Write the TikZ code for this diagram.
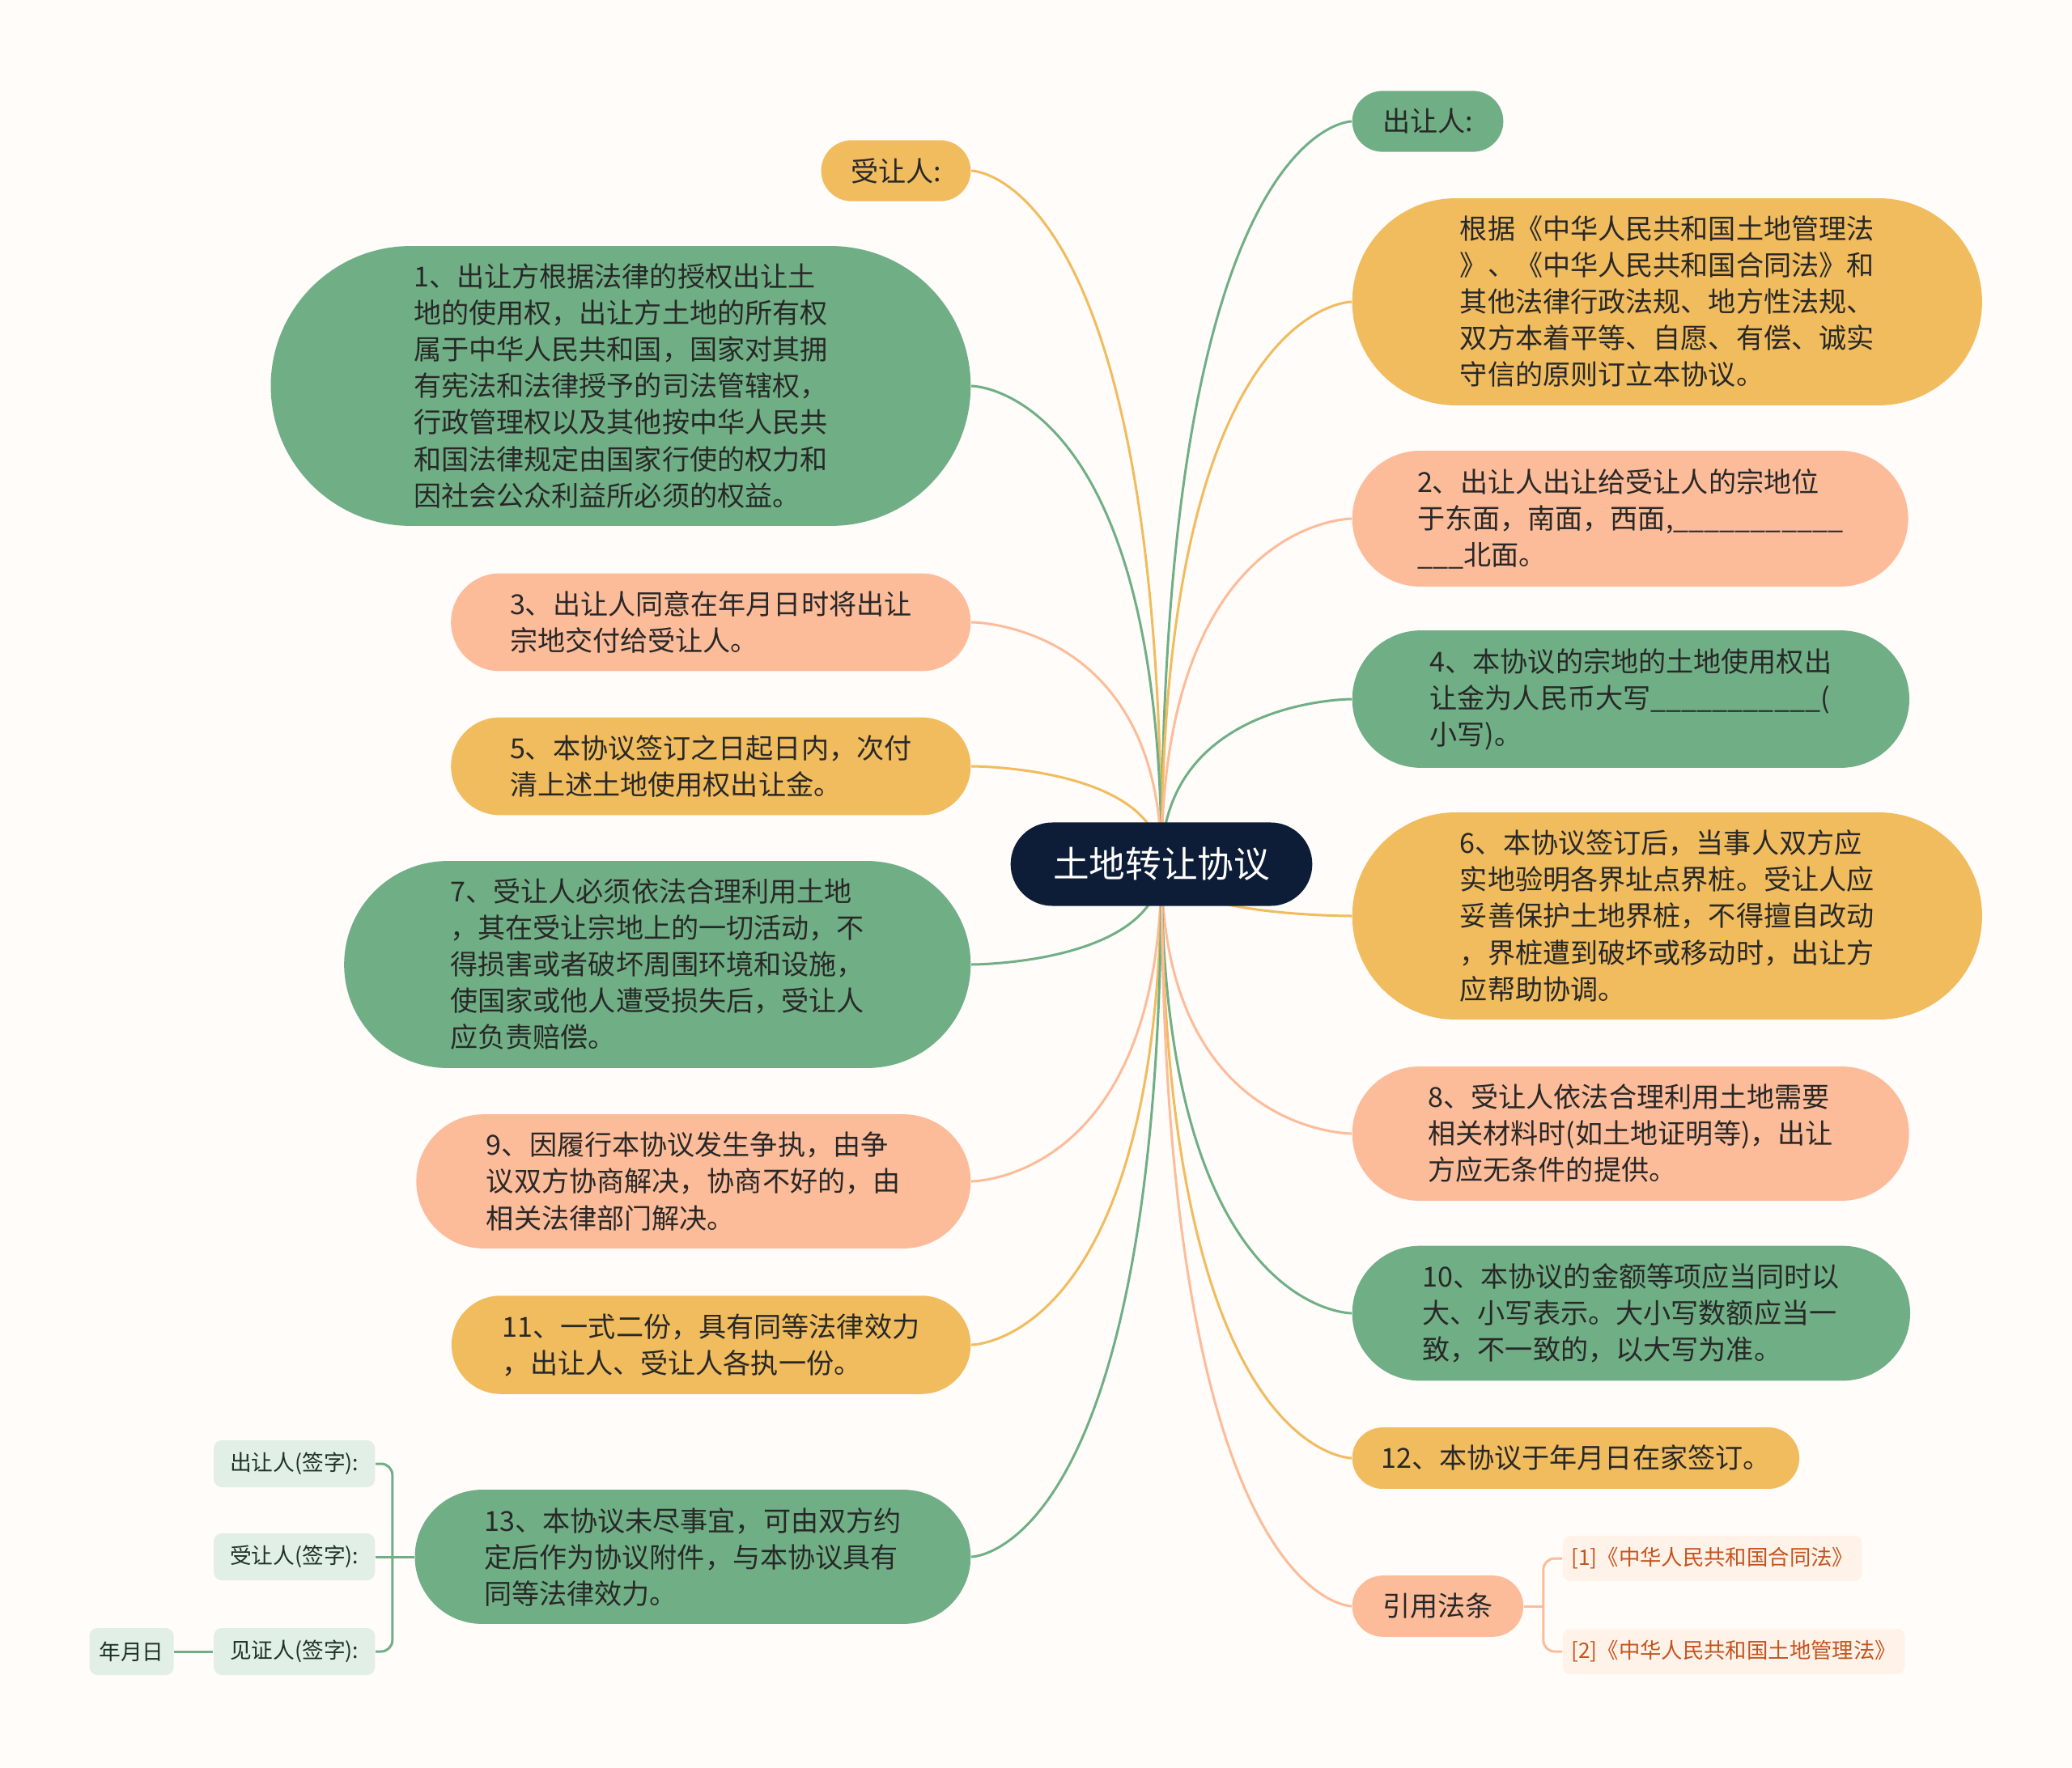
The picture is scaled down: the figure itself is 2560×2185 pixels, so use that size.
\documentclass[tikz,border=0pt]{standalone}
\usepackage{fontspec}
\setmainfont{Noto Sans CJK SC}
\usetikzlibrary{backgrounds,calc,positioning,shapes.misc}
\definecolor{bg}{RGB}{255,252,250}
\definecolor{grn}{RGB}{112,175,133}
\definecolor{yel}{RGB}{240,188,94}
\definecolor{sal}{RGB}{253,188,153}
\definecolor{navy}{RGB}{13,29,56}
\definecolor{ink}{RGB}{40,40,40}
\definecolor{leaf}{RGB}{226,239,230}
\definecolor{leafink}{RGB}{30,50,38}
\definecolor{refbg}{RGB}{255,242,232}
\definecolor{refink}{RGB}{196,84,30}
\tikzset{
  topic/.style={rounded rectangle,align=left,text=ink,inner xsep=0.06cm,inner ysep=0.22cm,
    font=\fontsize{9.7}{12.8}\selectfont},
  grnbox/.style={topic,fill=grn},
  yelbox/.style={topic,fill=yel},
  salbox/.style={topic,fill=sal},
  leafbox/.style={rounded corners=0.1cm,fill=leaf,text=leafink,font=\fontsize{7.6}{9}\selectfont,
    minimum height=0.58cm,inner xsep=0.2cm},
  refbox/.style={rounded corners=0.1cm,fill=refbg,text=refink,font=\fontsize{7.5}{9}\selectfont,
    minimum height=0.56cm,inner xsep=0.105cm},
  link/.style={line width=0.03cm},
}

\begin{document}
\begin{tikzpicture}[x=0.01cm,y=-0.01cm]
\node[rounded rectangle,fill=navy,text=white,font=\fontsize{12.7}{15}\selectfont,minimum height=1.03cm,inner xsep=0.48cm] (root) at (1435,1068) {土地转让协议};
% left branch
\node[yelbox,anchor=east,inner xsep=0.33cm] (sr) at (1200,211) {受让人:};
\node[grnbox,anchor=east,inner xsep=0.88cm] (c1) at (1200,477) {1、出让方根据法律的授权出让土\\地的使用权，出让方土地的所有权\\属于中华人民共和国，国家对其拥\\有宪法和法律授予的司法管辖权，\\行政管理权以及其他按中华人民共\\和国法律规定由国家行使的权力和\\因社会公众利益所必须的权益。};
\node[salbox,anchor=east,inner xsep=0.59cm] (c3) at (1200,769) {3、出让人同意在年月日时将出让\\宗地交付给受让人。};
\node[yelbox,anchor=east,inner xsep=0.59cm] (c5) at (1200,947) {5、本协议签订之日起日内，次付\\清上述土地使用权出让金。};
\node[grnbox,anchor=east,inner xsep=0.75cm] (c7) at (1200,1192) {7、受让人必须依法合理利用土地\\，其在受让宗地上的一切活动，不\\得损害或者破坏周围环境和设施，\\使国家或他人遭受损失后，受让人\\应负责赔偿。};
\node[salbox,anchor=east,inner xsep=0.60cm] (c9) at (1200,1460) {9、因履行本协议发生争执，由争\\议双方协商解决，协商不好的，由\\相关法律部门解决。};
\node[yelbox,anchor=east,inner xsep=0.49cm] (c11) at (1200,1662) {11、一式二份，具有同等法律效力\\，出让人、受让人各执一份。};
\node[grnbox,anchor=east,inner xsep=0.59cm] (c13) at (1200,1924) {13、本协议未尽事宜，可由双方约\\定后作为协议附件，与本协议具有\\同等法律效力。};
% right branch
\node[grnbox,anchor=west,inner xsep=0.34cm] (cr) at (1670,150) {出让人:};
\node[yelbox,anchor=west,inner xsep=0.77cm] (c0) at (1670,373) {根据《中华人民共和国土地管理法\\》、《中华人民共和国合同法》和\\其他法律行政法规、地方性法规、\\双方本着平等、自愿、有偿、诚实\\守信的原则订立本协议。};
\node[salbox,anchor=west,inner xsep=0.53cm] (c2) at (1670,641) {2、出让人出让给受让人的宗地位\\于东面，南面，西面,\_\_\_\_\_\_\_\_\_\_\_\\\_\_\_北面。};
\node[grnbox,anchor=west,inner xsep=0.68cm] (c4) at (1670,864) {4、本协议的宗地的土地使用权出\\让金为人民币大写\_\_\_\_\_\_\_\_\_\_\_(\\小写)。};
\node[yelbox,anchor=west,inner xsep=0.77cm] (c6) at (1670,1132) {6、本协议签订后，当事人双方应\\实地验明各界址点界桩。受让人应\\妥善保护土地界桩，不得擅自改动\\，界桩遭到破坏或移动时，出让方\\应帮助协调。};
\node[salbox,anchor=west,inner xsep=0.67cm] (c8) at (1670,1401) {8、受让人依法合理利用土地需要\\相关材料时(如土地证明等)，出让\\方应无条件的提供。};
\node[grnbox,anchor=west,inner xsep=0.60cm] (c10) at (1670,1623) {10、本协议的金额等项应当同时以\\大、小写表示。大小写数额应当一\\致，不一致的，以大写为准。};
\node[yelbox,anchor=west,inner xsep=0.32cm] (c12) at (1670,1802) {12、本协议于年月日在家签订。};
\node[salbox,anchor=west,inner xsep=0.34cm] (law) at (1670,1985) {引用法条};
% leaves
\node[leafbox,anchor=east] (s1) at (464,1809) {出让人(签字):};
\node[leafbox,anchor=east] (s2) at (464,1924) {受让人(签字):};
\node[leafbox,anchor=east] (s3) at (464,2041) {见证人(签字):};
\node[leafbox,left=0.48cm of s3,inner xsep=0.12cm] (date) {年月日};
\node[refbox,anchor=west] (l1) at (1930,1926) {[1]《中华人民共和国合同法》};
\node[refbox,anchor=west] (l2) at (1930,2041) {[2]《中华人民共和国土地管理法》};
\coordinate (fork) at ($(c13.west)+(-27,0)$);
\coordinate (lfork) at ($(law.east)+(24,0)$);

\begin{scope}[on background layer]
\fill[bg] (0,0) rectangle (2560,2185);
\foreach \n/\c in {sr/yel,c1/grn,c3/sal,c5/yel,c7/grn,c9/sal,c11/yel,c13/grn}
  \draw[link,\c] (root.center) .. controls (root.center |- \n.east) and (\n.east) .. (\n.east);
\foreach \n/\c in {cr/grn,c0/yel,c2/sal,c4/grn,c6/yel,c8/sal,c10/grn,c12/yel,law/sal}
  \draw[link,\c] (root.center) .. controls (root.center |- \n.west) and (\n.west) .. (\n.west);
\draw[link,grn] (c13.west) -- (s2.east);
\draw[link,grn,rounded corners=0.14cm] (fork) |- (s1.east);
\draw[link,grn,rounded corners=0.14cm] (fork) |- (s3.east);
\draw[link,grn] (s3.west) -- (date.east);
\draw[link,sal] (law.east) -- (lfork);
\draw[link,sal,rounded corners=0.14cm] (lfork) |- (l1.west);
\draw[link,sal,rounded corners=0.14cm] (lfork) |- (l2.west);
\end{scope}
\end{tikzpicture}
\end{document}
